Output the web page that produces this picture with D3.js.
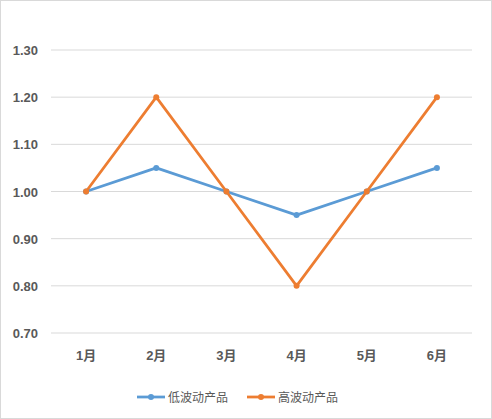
<!DOCTYPE html>
<html><head><meta charset="utf-8">
<script src="https://cdn.jsdelivr.net/npm/d3@7"></script>
<style>body{margin:0;background:#fff}svg{display:block}</style>
</head><body><div id="chart" style="width:492px;height:419px"></div>
<script>
const categories = ["1月","2月","3月","4月","5月","6月"];
const lowVol = [1.00,1.05,1.00,0.95,1.00,1.05];
const highVol = [1.00,1.20,1.00,0.80,1.00,1.20];
const yTicks = [0.70,0.80,0.90,1.00,1.10,1.20,1.30];
const seriesNames = ["低波动产品","高波动产品"];
const colors = ["#5B9BD5","#ED7D31"];

const W = 492, H = 419;
const svg = d3.select("#chart").append("svg").attr("width", W).attr("height", H);
svg.append("rect").attr("x",0.5).attr("y",0.5).attr("width",W-1).attr("height",H-1)
  .attr("fill","#fff").attr("stroke","#d9d9d9");

const x = d3.scaleBand().domain(categories).range([51, 472]);
const y = d3.scaleLinear().domain([0.7, 1.3]).range([333, 50]);
const font = "'Liberation Sans', 'Noto Sans CJK SC', sans-serif";

const grid = svg.append("g");
grid.selectAll("line").data(yTicks).join("line")
  .attr("x1",51).attr("x2",472).attr("y1",d=>y(d)).attr("y2",d=>y(d))
  .attr("stroke","#d9d9d9").attr("stroke-width",1);
svg.append("g").selectAll("text").data(yTicks).join("text")
  .attr("x",38).attr("y",d=>y(d)+5).attr("text-anchor","end")
  .attr("font-family",font).attr("font-size",13).attr("font-weight","bold").attr("fill","#595959")
  .text(d=>d.toFixed(2));
svg.append("g").selectAll("text").data(categories).join("text")
  .attr("x",d=>x(d)+x.bandwidth()/2).attr("y",360).attr("text-anchor","middle")
  .attr("font-family",font).attr("font-size",13).attr("font-weight","bold").attr("fill","#595959")
  .text(d=>d);

const line = d3.line().x((d,i)=>x(categories[i])+x.bandwidth()/2).y(d=>y(d));
[lowVol, highVol].forEach((s,k)=>{
  const g = svg.append("g");
  g.append("path").attr("d",line(s)).attr("fill","none").attr("stroke",colors[k]).attr("stroke-width",2.75).attr("stroke-linejoin","round");
  g.selectAll("circle").data(s).join("circle")
    .attr("cx",(d,i)=>x(categories[i])+x.bandwidth()/2).attr("cy",d=>y(d)).attr("r",3)
    .attr("fill",colors[k]);
});

// legend
const lg = svg.append("g").attr("transform","translate(137,397)");
seriesNames.forEach((n,k)=>{
  const g = lg.append("g").attr("transform",`translate(${k*110},0)`);
  g.append("line").attr("x1",0).attr("x2",28).attr("stroke",colors[k]).attr("stroke-width",2.75);
  g.append("circle").attr("cx",14).attr("r",3).attr("fill",colors[k]);
  g.append("text").attr("x",31).attr("y",4.5).attr("font-family",font).attr("font-size",12)
    .attr("fill","#595959").text(n);
});
</script></body></html>
